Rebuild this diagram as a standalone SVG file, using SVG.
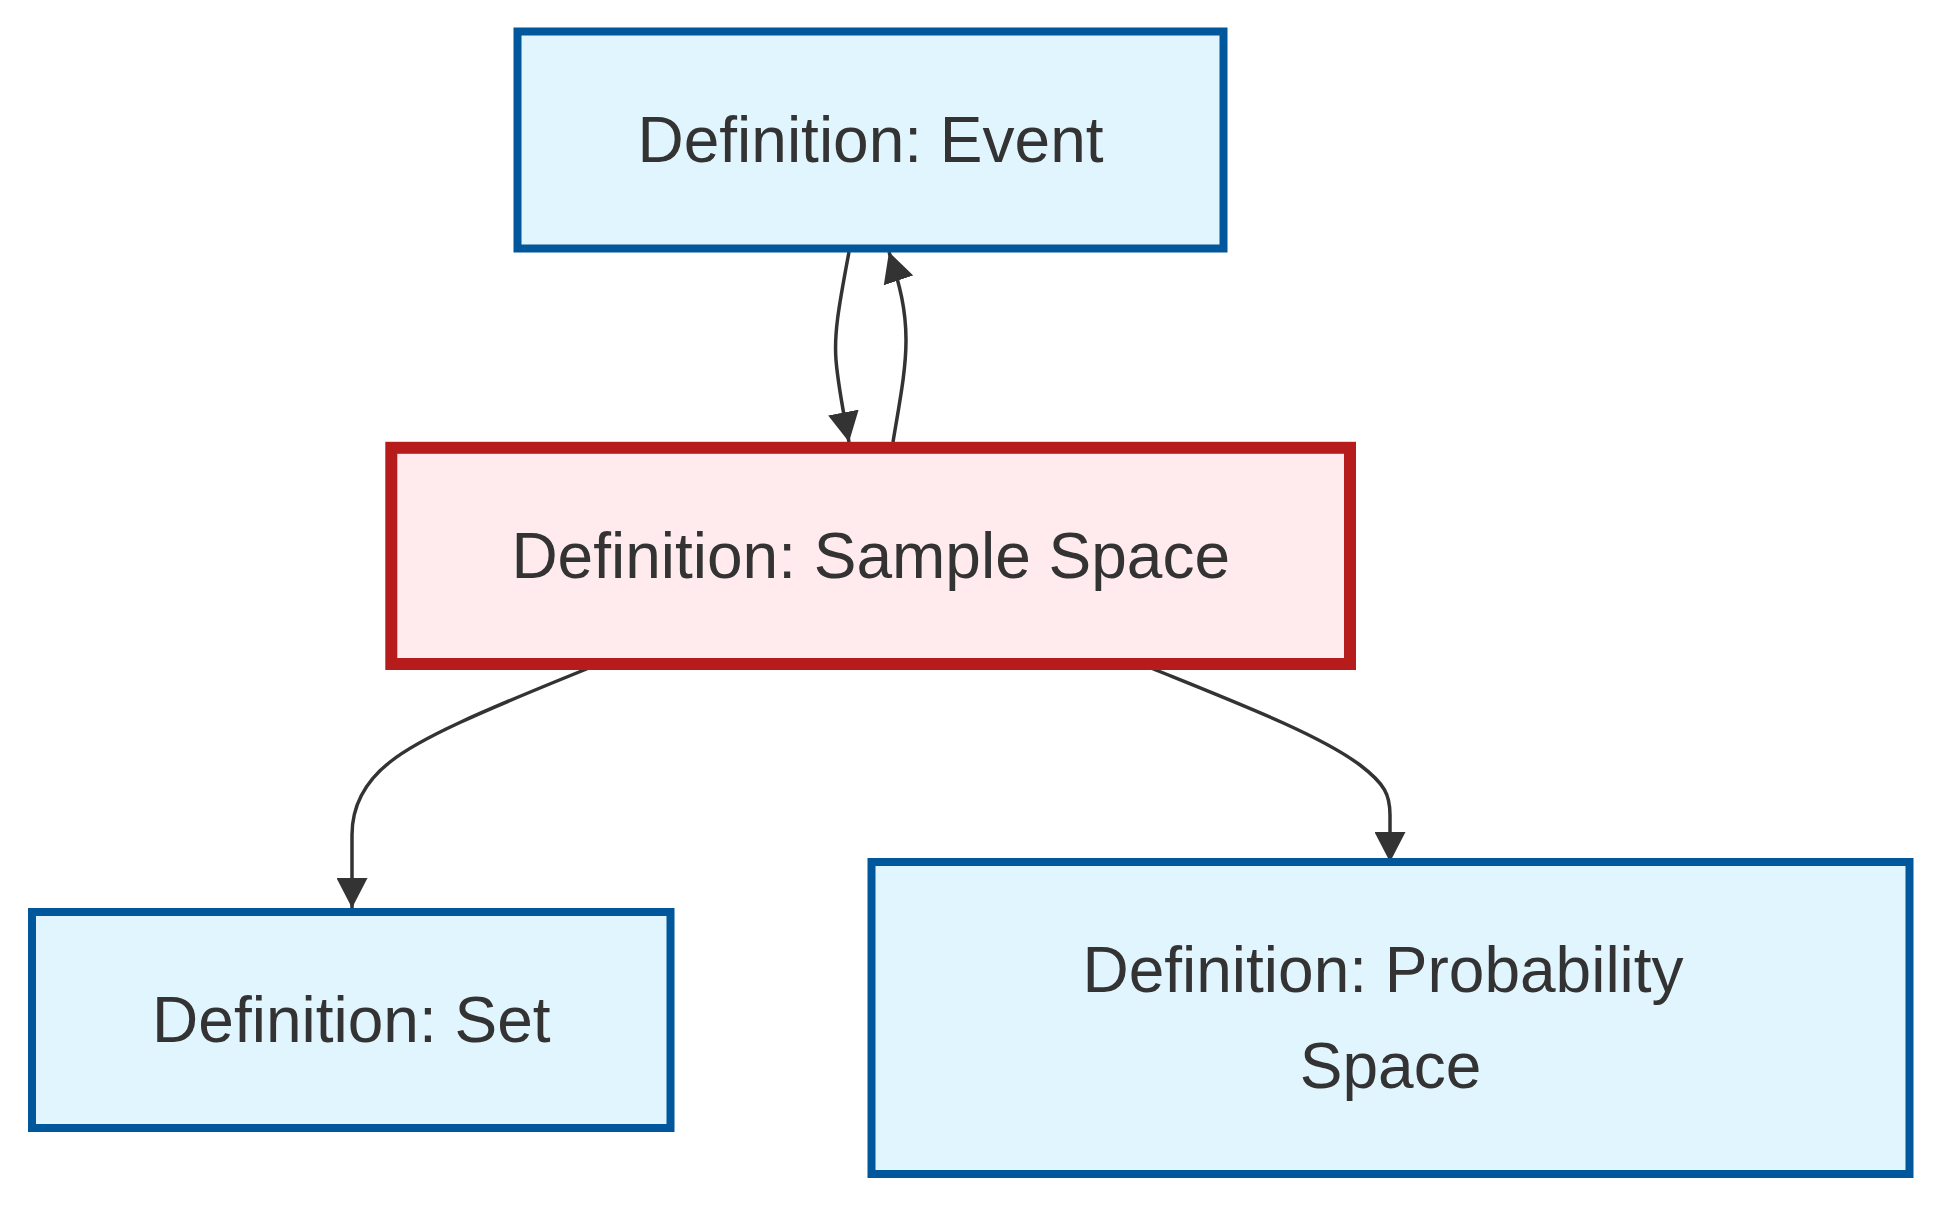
<svg xmlns="http://www.w3.org/2000/svg" width="1940" height="1208" viewBox="0 0 1940 1208">
  <style>
    .blue rect { fill: #e1f5fe; stroke: #01579b; stroke-width: 8; }
    .red rect { fill: #ffebee; stroke: #b71c1c; stroke-width: 12; }
    .node text { font-family: "Liberation Sans", Arial, sans-serif; font-size: 64px; fill: #333333; text-anchor: middle; }
    .edge { fill: none; stroke: #333333; stroke-width: 3.5; marker-end: url(#arrow); }
  </style>
  <defs>
    <marker id="arrow" viewBox="0 0 10 10" refX="10" refY="5" markerUnits="userSpaceOnUse" markerWidth="30" markerHeight="31" orient="auto" preserveAspectRatio="none">
      <path d="M0,0 L10,5 L0,10 z" fill="#333333"/>
    </marker>
  </defs>
  <rect width="1940" height="1208" fill="#ffffff"/>
  <g id="connectors">
    <path class="edge" d="M849,252 C838,310 834,335 836,360 C838,385 842,405 849,442"/>
    <path class="edge" d="M893,442 C900,400 906,370 906,340 C906,310 900,285 889,252"/>
    <path class="edge" d="M589,668 C480,712 420,738 390,762 Q352,792 352,835 L352,908"/>
    <path class="edge" d="M1151,668 C1240,704 1320,735 1360,765 C1385,784 1390,795 1390,815 L1390,862"/>
  </g>
  <g id="node-event" class="node blue">
    <rect x="517.5" y="31.5" width="706" height="217"/>
    <text x="870.5" y="162">Definition: Event</text>
  </g>
  <g id="node-sample-space" class="node red">
    <rect x="391.3" y="447.8" width="958.7" height="216.2"/>
    <text x="870.7" y="578">Definition: Sample Space</text>
  </g>
  <g id="node-set" class="node blue">
    <rect x="32" y="912" width="638.5" height="216"/>
    <text x="351.3" y="1042">Definition: Set</text>
  </g>
  <g id="node-probability-space" class="node blue">
    <rect x="871.5" y="862" width="1038" height="312"/>
    <text x="1383" y="992">Definition: Probability</text>
    <text x="1390.5" y="1088">Space</text>
  </g>
</svg>
